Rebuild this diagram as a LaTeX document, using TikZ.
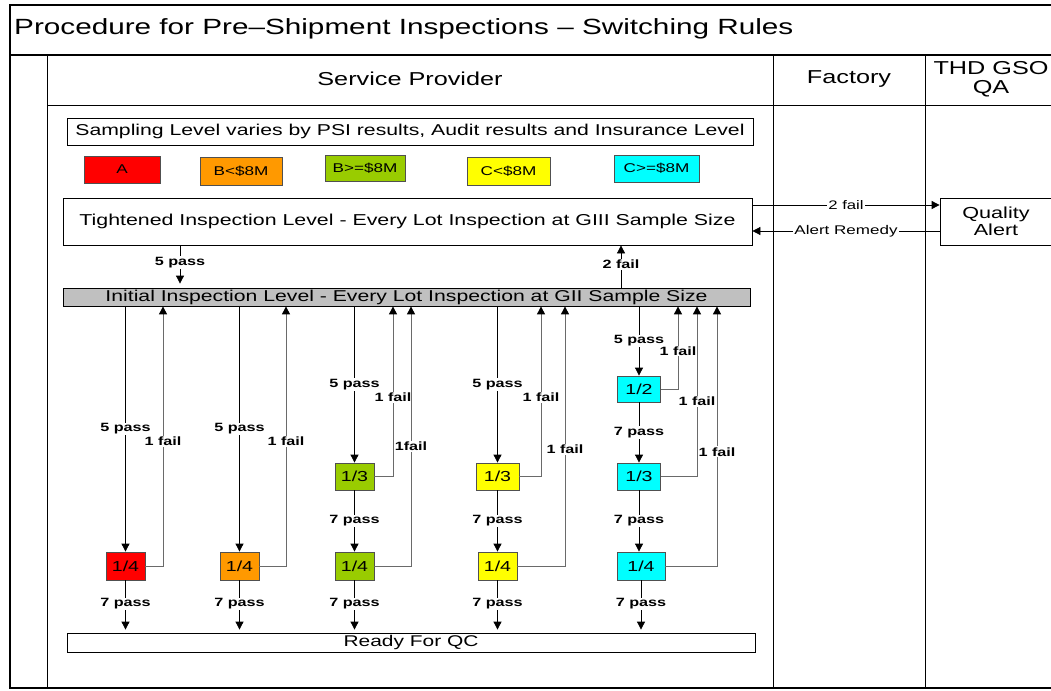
\documentclass[tikz,border=0pt]{standalone}
\usepackage{fontspec}
\setmainfont[FakeStretch=1.35]{Liberation Sans}
\usetikzlibrary{arrows.meta}
\definecolor{lvA}{HTML}{FF0000}
\definecolor{lvBlo}{HTML}{FF9900}
\definecolor{lvBhi}{HTML}{99CC00}
\definecolor{lvClo}{HTML}{FFFF00}
\definecolor{lvChi}{HTML}{00FFFF}
\definecolor{initgray}{HTML}{C0C0C0}
\definecolor{failgray}{HTML}{6A6A6A}
\definecolor{boxedge}{HTML}{505050}
\newcommand\pxs[1]{\fontsize{#1}{#1}\selectfont}
\tikzset{
  frameline/.style={draw=black, line width=1.3pt},
  laneline/.style={draw=black, line width=1pt},
  wbox/.style={draw=black, fill=white, line width=0.8pt, inner sep=0pt},
  keybox/.style={draw=boxedge, line width=0.8pt, inner sep=0pt, font={\pxs{12.7}}},
  lvbox/.style={draw=boxedge, line width=0.8pt, inner sep=0pt, font={\pxs{14.5}}},
  passarrow/.style={draw=black, line width=0.8pt, -{Triangle[length=8pt,width=8pt]}},
  failarrow/.style={draw=failgray, line width=1pt, -{Triangle[length=8pt,width=8pt,fill=black,color=black]}},
  lbl/.style={fill=white, inner sep=1pt, font={\bfseries\pxs{12}}, text=black},
}
\begin{document}
\begin{tikzpicture}[x=1pt,y=-1pt]
\useasboundingbox (0,0) rectangle (1051,690);
\fill[white] (0,0) rectangle (1051,690);

% outer frame and swimlanes
\draw[frameline] (1055,5) -- (10,5) -- (10,688) -- (1055,688);
\draw[frameline] (10,55) -- (1055,55);
\draw[laneline] (47,55) -- (47,688);
\draw[laneline] (773,55) -- (773,688);
\draw[laneline] (925,55) -- (925,688);
\draw[laneline] (47,106) -- (1055,106);

\node[anchor=west, font={\pxs{22}}, inner sep=0pt] (title) at (14,29) {Procedure for Pre–Shipment Inspections – Switching Rules};
\node[font={\pxs{18.7}}] (hsp) at (410,79) {Service Provider};
\node[font={\pxs{18.7}}] (hfac) at (849,79) {Factory};
\node[font={\fontsize{18.7}{19}\selectfont}, align=center, inner sep=0pt] (hqa) at (991,79) {THD GSO\\QA};

% notes and key
\node[wbox, minimum width=686pt, minimum height=27pt, font={\pxs{15.7}}] (note) at (410,131.5) {Sampling Level varies by PSI results, Audit results and Insurance Level};
\node[keybox, fill=lvA, minimum width=76pt, minimum height=27pt] (kA) at (122,169.5) {A};
\node[keybox, fill=lvBlo, minimum width=82pt, minimum height=28pt] (kBlo) at (241,171) {B<\$8M};
\node[keybox, fill=lvBhi, minimum width=80pt, minimum height=26pt] (kBhi) at (365,168) {B>=\$8M};
\node[keybox, fill=lvClo, minimum width=83pt, minimum height=28pt] (kClo) at (508.5,171) {C<\$8M};
\node[keybox, fill=lvChi, minimum width=85pt, minimum height=27pt] (kChi) at (656.5,168.5) {C>=\$8M};

% inspection levels
\node[wbox, minimum width=689pt, minimum height=47pt, font={\pxs{15.8}}] (tight) at (407.5,221.5) {Tightened Inspection Level - Every Lot Inspection at GIII Sample Size};
\node[wbox, fill=initgray, minimum width=687pt, minimum height=18pt, font={\pxs{15.7}}] (init) at (406.5,297) {Initial Inspection Level - Every Lot Inspection at GII Sample Size};
\node[wbox, minimum width=688pt, minimum height=19pt, font={\pxs{15.5}}] (ready) at (411,642.5) {Ready For QC};
\node[wbox, minimum width=112pt, minimum height=47pt, align=center, font={\fontsize{16}{17}\selectfont}] (qa) at (996,221.5) {Quality\\Alert};

% sampling frequency boxes
\node[lvbox, fill=lvA,   minimum width=39pt, minimum height=28pt] (r4) at (125.5,566) {1/4};
\node[lvbox, fill=lvBlo, minimum width=39pt, minimum height=28pt] (o4) at (239.5,566) {1/4};
\node[lvbox, fill=lvBhi, minimum width=39pt, minimum height=27pt] (g3) at (354.5,476.5) {1/3};
\node[lvbox, fill=lvBhi, minimum width=39pt, minimum height=28pt] (g4) at (354.5,566) {1/4};
\node[lvbox, fill=lvClo, minimum width=43pt, minimum height=27pt] (y3) at (497.5,476.5) {1/3};
\node[lvbox, fill=lvClo, minimum width=39pt, minimum height=28pt] (y4) at (497.5,566) {1/4};
\node[lvbox, fill=lvChi, minimum width=43pt, minimum height=26pt] (c2) at (639,389) {1/2};
\node[lvbox, fill=lvChi, minimum width=43pt, minimum height=27pt] (c3) at (639,476.5) {1/3};
\node[lvbox, fill=lvChi, minimum width=48pt, minimum height=28pt] (c4) at (641,566) {1/4};

% x positions of the return (fail) lines
\coordinate (t5) at (180,0);
\coordinate (t2) at (621,0);
\coordinate (fr) at (163,0);
\coordinate (fo) at (286,0);
\coordinate (fg3) at (393,0);
\coordinate (fg4) at (411,0);
\coordinate (fy3) at (541,0);
\coordinate (fy4) at (565,0);
\coordinate (fc2) at (678,0);
\coordinate (fc3) at (697,0);
\coordinate (fc4) at (717,0);
\coordinate (qa1) at ([yshift=16.5pt]tight.east);
\coordinate (qa2) at ([yshift=-9.5pt]tight.east);

% tightened <-> quality alert
\draw[passarrow] (qa1) -- node[lbl, font={\pxs{12.4}}] {2 fail} (qa1 -| qa.west);
\draw[passarrow] (qa2 -| qa.west) -- node[lbl, font={\pxs{12.6}}] {Alert Remedy} (qa2);

% tightened <-> initial
\draw[passarrow, shorten >=4pt] (tight.south -| t5) -- node[lbl, pos=0.4] {5 pass} (init.north -| t5);
\draw[passarrow] (init.north -| t2) -- node[lbl, pos=0.55] {2 fail} (tight.south -| t2);

% initial -> reduced levels
\draw[passarrow] (init.south -| r4) -- node[lbl] {5 pass} (r4.north);
\draw[passarrow] (init.south -| o4) -- node[lbl] {5 pass} (o4.north);
\draw[passarrow] (init.south -| g3) -- node[lbl] {5 pass} (g3.north);
\draw[passarrow] (init.south -| y3) -- node[lbl] {5 pass} (y3.north);
\draw[passarrow] (init.south -| c2) -- node[lbl] {5 pass} (c2.north);
\draw[passarrow] (c2.south) -- node[lbl] {7 pass} (c3.north);
\draw[passarrow] (g3.south) -- node[lbl] {7 pass} (g4.north);
\draw[passarrow] (y3.south) -- node[lbl] {7 pass} (y4.north);
\draw[passarrow] (c3.south) -- node[lbl] {7 pass} (c3.south |- c4.north);

% reduced levels -> ready for QC
\foreach \b in {r4,o4,g4,y4,c4}
  \draw[passarrow, shorten >=3pt] (\b.south) -- node[lbl, pos=0.45] {7 pass} (ready.north -| \b);

% fail returns to initial level
\draw[failarrow] (r4.east) -| node[lbl, pos=0.74] {1 fail} (init.south -| fr);
\draw[failarrow] (o4.east) -| node[lbl, pos=0.74] {1 fail} (init.south -| fo);
\draw[failarrow] (g3.east) -| node[lbl, pos=0.733] {1 fail} (init.south -| fg3);
\draw[failarrow] (g4.east) -| node[lbl, pos=0.73] {1fail} (init.south -| fg4);
\draw[failarrow] (y3.east) -| node[lbl, pos=0.733] {1 fail} (init.south -| fy3);
\draw[failarrow] (y4.east) -| node[lbl, pos=0.725] {1 fail} (init.south -| fy4);
\draw[failarrow] (c2.east) -| node[lbl, pos=0.73] {1 fail} (init.south -| fc2);
\draw[failarrow] (c3.east) -| node[lbl, pos=0.72] {1 fail} (init.south -| fc3);
\draw[failarrow] (c4.east) -| node[lbl, pos=0.72] {1 fail} (init.south -| fc4);
\end{tikzpicture}
\end{document}
